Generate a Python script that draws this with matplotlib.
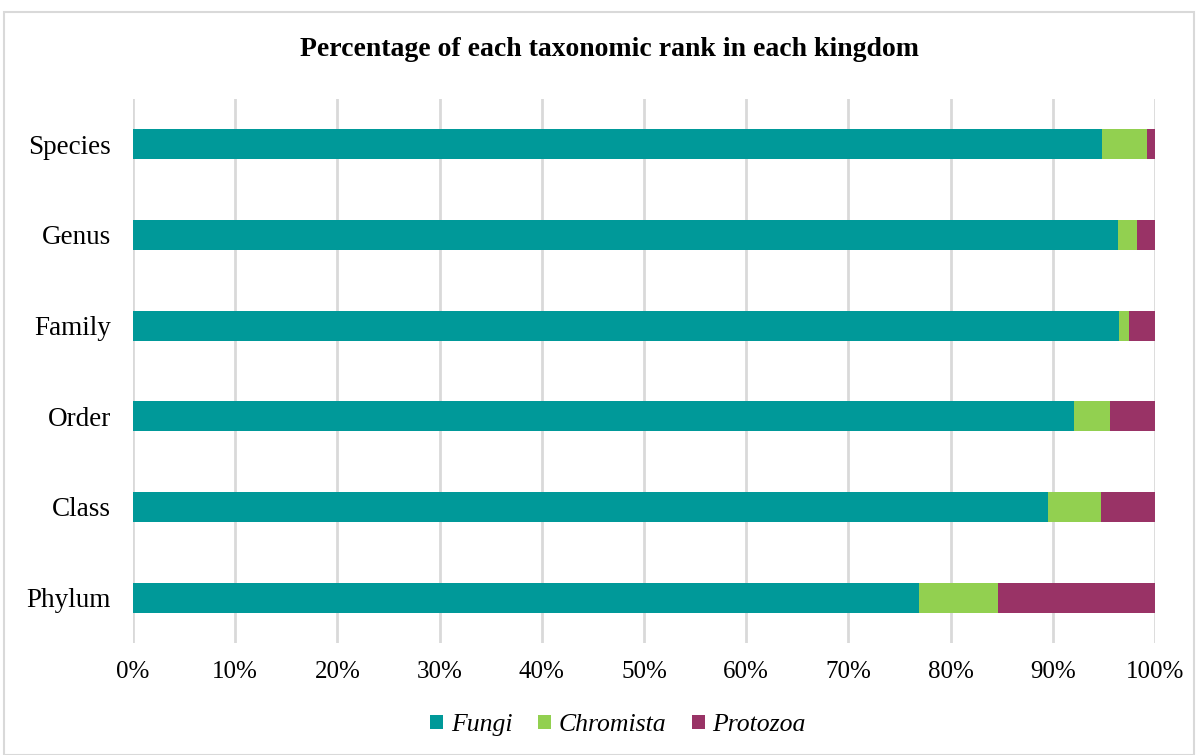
import numpy as np
import matplotlib.pyplot as plt
from matplotlib.patches import Rectangle

ranks = ["Phylum", "Class", "Order", "Family", "Genus", "Species"]
fungi = np.array([76.9, 89.5, 92.1, 96.5, 96.4, 94.8])
chromista = np.array([7.7, 5.2, 3.5, 1.0, 1.8, 4.45])
protozoa = 100 - fungi - chromista

colors = ["#009999", "#92d050", "#993366"]

plt.rcParams['font.family'] = ['Liberation Serif', 'DejaVu Serif']

fig = plt.figure(figsize=(11.98, 7.55), dpi=100)
ax = fig.add_axes([133 / 1198, 1 - 643 / 755, (1155 - 133) / 1198, (643 - 99) / 755])

y = np.arange(len(ranks))
h = 0.33
ax.barh(y, fungi, h, color=colors[0], label="Fungi", zorder=3)
ax.barh(y, chromista, h, left=fungi, color=colors[1], label="Chromista", zorder=3)
ax.barh(y, protozoa, h, left=fungi + chromista, color=colors[2], label="Protozoa", zorder=3)

ax.set_xlim(0, 100)
ax.set_ylim(-0.5, len(ranks) - 0.5)
ax.set_xticks(np.arange(0, 101, 10))
ax.set_xticklabels([f"{v}%" for v in range(0, 101, 10)], fontsize=18)
ax.set_yticks(y)
ax.set_yticklabels(ranks, fontsize=19.5)
ax.tick_params(length=0, pad=13, axis='x')
ax.tick_params(length=0, pad=16, axis='y')
ax.grid(axis='x', color='#d9d9d9', linewidth=2, zorder=0)
for s in ax.spines.values():
    s.set_visible(False)

fig.suptitle("Percentage of each taxonomic rank in each kingdom", x=610 / 1198, y=1 - 50 / 755,
             va='center', fontsize=20, fontweight='bold')

leg = fig.legend(loc='center', bbox_to_anchor=(618 / 1198, 1 - 725 / 755), ncol=3, frameon=False,
                 prop={'style': 'italic', 'size': 18.5}, handlelength=0.5, handleheight=0.5,
                 handletextpad=0.3, columnspacing=1.0)

fig.patches.append(Rectangle((4 / 1198, 0), 1 - 8 / 1198, 1 - 12 / 755, transform=fig.transFigure,
                             fill=False, edgecolor='#d9d9d9', linewidth=1.5))

fig.savefig("out.png", dpi=100)
